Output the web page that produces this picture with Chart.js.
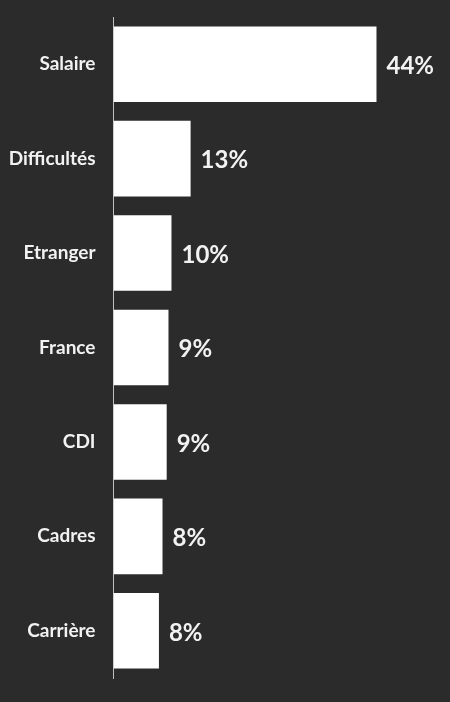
<!DOCTYPE html>
<html>
<head>
<meta charset="utf-8">
<script src="https://cdn.jsdelivr.net/npm/chart.js@4/dist/chart.umd.min.js"></script>
<style>
  html, body { margin: 0; padding: 0; background: #2b2b2b; }
  #wrap { width: 450px; height: 702px; position: relative; }
</style>
</head>
<body>
<div id="wrap"><canvas id="chart"></canvas></div>
<script>
// categories, top to bottom
const categories = ['Salaire', 'Difficultés', 'Etranger', 'France', 'CDI', 'Cadres', 'Carrière'];
// share of mentions in percent
const shares = [44, 12.9, 9.7, 9.2, 8.9, 8.2, 7.6];

// draws "44%" etc. just after the end of each bar
const valueLabels = {
    id: 'valueLabels',
    afterDatasetsDraw(chart) {
        const ctx = chart.ctx;
        const meta = chart.getDatasetMeta(0);
        ctx.save();
        ctx.font = 'bold 24px Lato';
        ctx.fillStyle = '#f2f2f2';
        ctx.textAlign = 'left';
        ctx.textBaseline = 'middle';
        meta.data.forEach((bar, i) => {
            ctx.fillText(Math.round(shares[i]) + '%', bar.x + 10, bar.y + 2);
        });
        ctx.restore();
    }
};

const ctx = document.getElementById('chart').getContext('2d');
new Chart(ctx, {
    type: 'bar',
    data: {
        labels: categories,
        datasets: [{
            data: shares,
            backgroundColor: '#ffffff',
            borderWidth: 0,
            categoryPercentage: 0.8,
            barPercentage: 1
        }]
    },
    options: {
        indexAxis: 'y',
        responsive: true,
        maintainAspectRatio: false,
        animation: false,
        layout: { padding: { top: 17, bottom: 24, left: 0, right: 0 } },
        plugins: { legend: { display: false }, tooltip: { enabled: false } },
        scales: {
            x: { display: false, min: 0, max: 56.3 },
            y: {
                grid: { display: false, drawTicks: false },
                border: { display: true, color: '#bfbfbf', width: 1 },
                ticks: {
                    color: '#f2f2f2',
                    padding: 18,
                    font: { family: 'Lato', size: 19, weight: 'bold' }
                },
                afterFit(scale) {
                    scale.width = 113.5;
                    scale.paddingTop = 0;
                    scale.paddingBottom = 0;
                }
            }
        }
    },
    plugins: [valueLabels]
});
</script>
</body>
</html>
